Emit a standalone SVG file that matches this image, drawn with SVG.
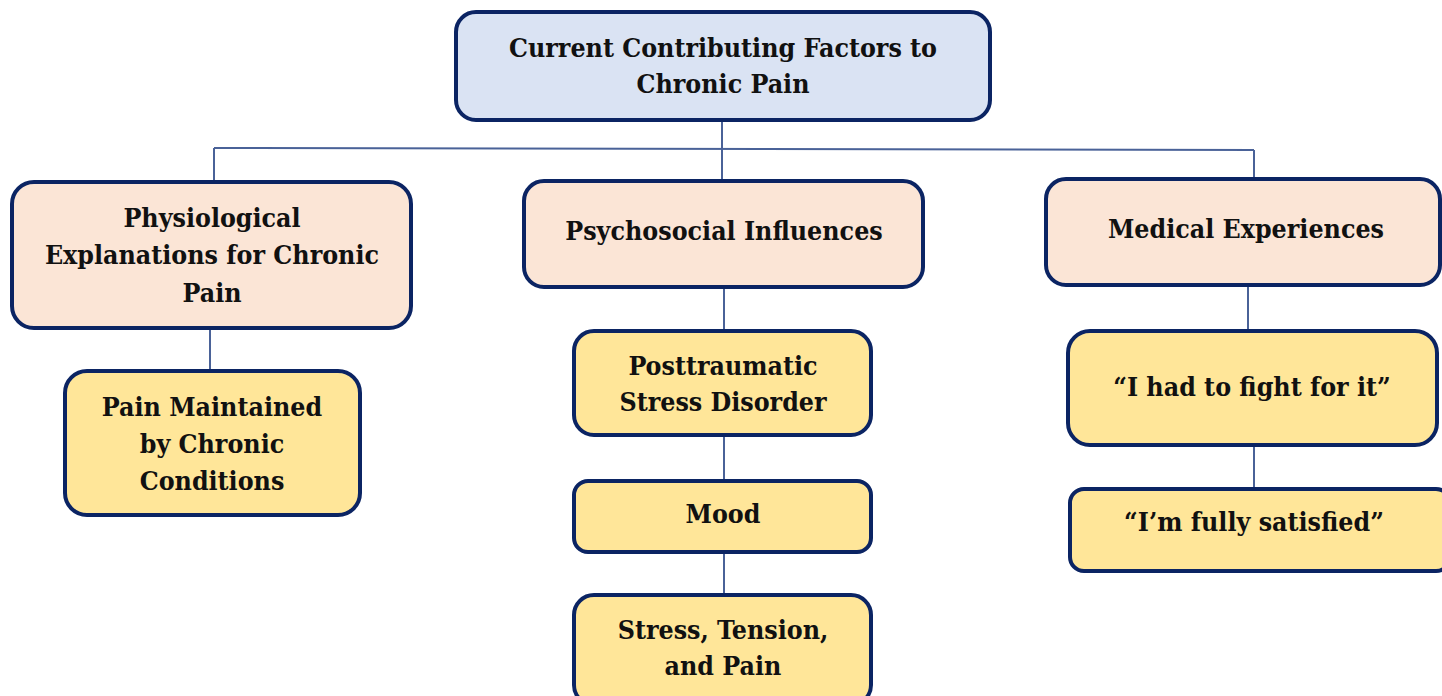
<svg xmlns="http://www.w3.org/2000/svg" width="1442" height="696" viewBox="0 0 1442 696">
  <style>
    .box { stroke: #0b2463; stroke-width: 4; }
    .root { fill: #dae3f3; }
    .cat { fill: #fbe5d6; }
    .sub { fill: #ffe699; }
    .lbl { font-family: "DejaVu Serif Condensed", "DejaVu Serif", serif; font-stretch: condensed; font-weight: bold; font-size: 26.5px; fill: #111111; text-anchor: middle; }
    .conn { stroke: #4a6298; stroke-width: 2; fill: none; }
  </style>
  <rect width="1442" height="696" fill="#ffffff"/>

  <!-- connectors -->
  <g id="connectors" class="conn">
    <line x1="722" y1="120" x2="722" y2="148"/>
    <line x1="214" y1="148" x2="1254" y2="150"/>
    <line x1="214" y1="148" x2="214" y2="181"/>
    <line x1="722" y1="148" x2="722" y2="180"/>
    <line x1="1254" y1="150" x2="1254" y2="178"/>
    <line x1="210" y1="329" x2="210" y2="370"/>
    <line x1="724" y1="288" x2="724" y2="330"/>
    <line x1="724" y1="436" x2="724" y2="480"/>
    <line x1="724" y1="553" x2="724" y2="594"/>
    <line x1="1248" y1="286" x2="1248" y2="330"/>
    <line x1="1254" y1="446" x2="1254" y2="488"/>
  </g>

  <g id="root-node">
    <rect class="box root" x="456" y="12" width="534" height="108" rx="20"/>
    <text class="lbl" x="723" y="57">Current Contributing Factors to</text>
    <text class="lbl" x="723" y="93">Chronic Pain</text>
  </g>

  <g id="physiological">
    <rect class="box cat" x="12" y="182" width="399" height="146" rx="22"/>
    <text class="lbl" x="212" y="227">Physiological</text>
    <text class="lbl" x="212" y="264">Explanations for Chronic</text>
    <text class="lbl" x="212" y="302">Pain</text>
  </g>

  <g id="psychosocial">
    <rect class="box cat" x="524" y="181" width="399" height="106" rx="20"/>
    <text class="lbl" x="724" y="240">Psychosocial Influences</text>
  </g>

  <g id="medical">
    <rect class="box cat" x="1046" y="179" width="394" height="106" rx="20"/>
    <text class="lbl" x="1246" y="238">Medical Experiences</text>
  </g>

  <g id="chronic-conditions">
    <rect class="box sub" x="65" y="371" width="295" height="144" rx="22"/>
    <text class="lbl" x="212" y="416">Pain Maintained</text>
    <text class="lbl" x="212" y="453">by Chronic</text>
    <text class="lbl" x="212" y="490">Conditions</text>
  </g>

  <g id="ptsd">
    <rect class="box sub" x="574" y="331" width="297" height="104" rx="20"/>
    <text class="lbl" x="723" y="375">Posttraumatic</text>
    <text class="lbl" x="723" y="411">Stress Disorder</text>
  </g>

  <g id="mood">
    <rect class="box sub" x="574" y="481" width="297" height="71" rx="14"/>
    <text class="lbl" x="723" y="523">Mood</text>
  </g>

  <g id="stress">
    <rect class="box sub" x="574" y="595" width="297" height="110" rx="20"/>
    <text class="lbl" x="723" y="639">Stress, Tension,</text>
    <text class="lbl" x="723" y="675">and Pain</text>
  </g>

  <g id="fight">
    <rect class="box sub" x="1068" y="331" width="369" height="114" rx="22"/>
    <text class="lbl" x="1252" y="396">“I had to fight for it”</text>
  </g>

  <g id="satisfied">
    <rect class="box sub" x="1070" y="489" width="380" height="82" rx="14"/>
    <text class="lbl" x="1254" y="531">“I’m fully satisfied”</text>
  </g>
</svg>
